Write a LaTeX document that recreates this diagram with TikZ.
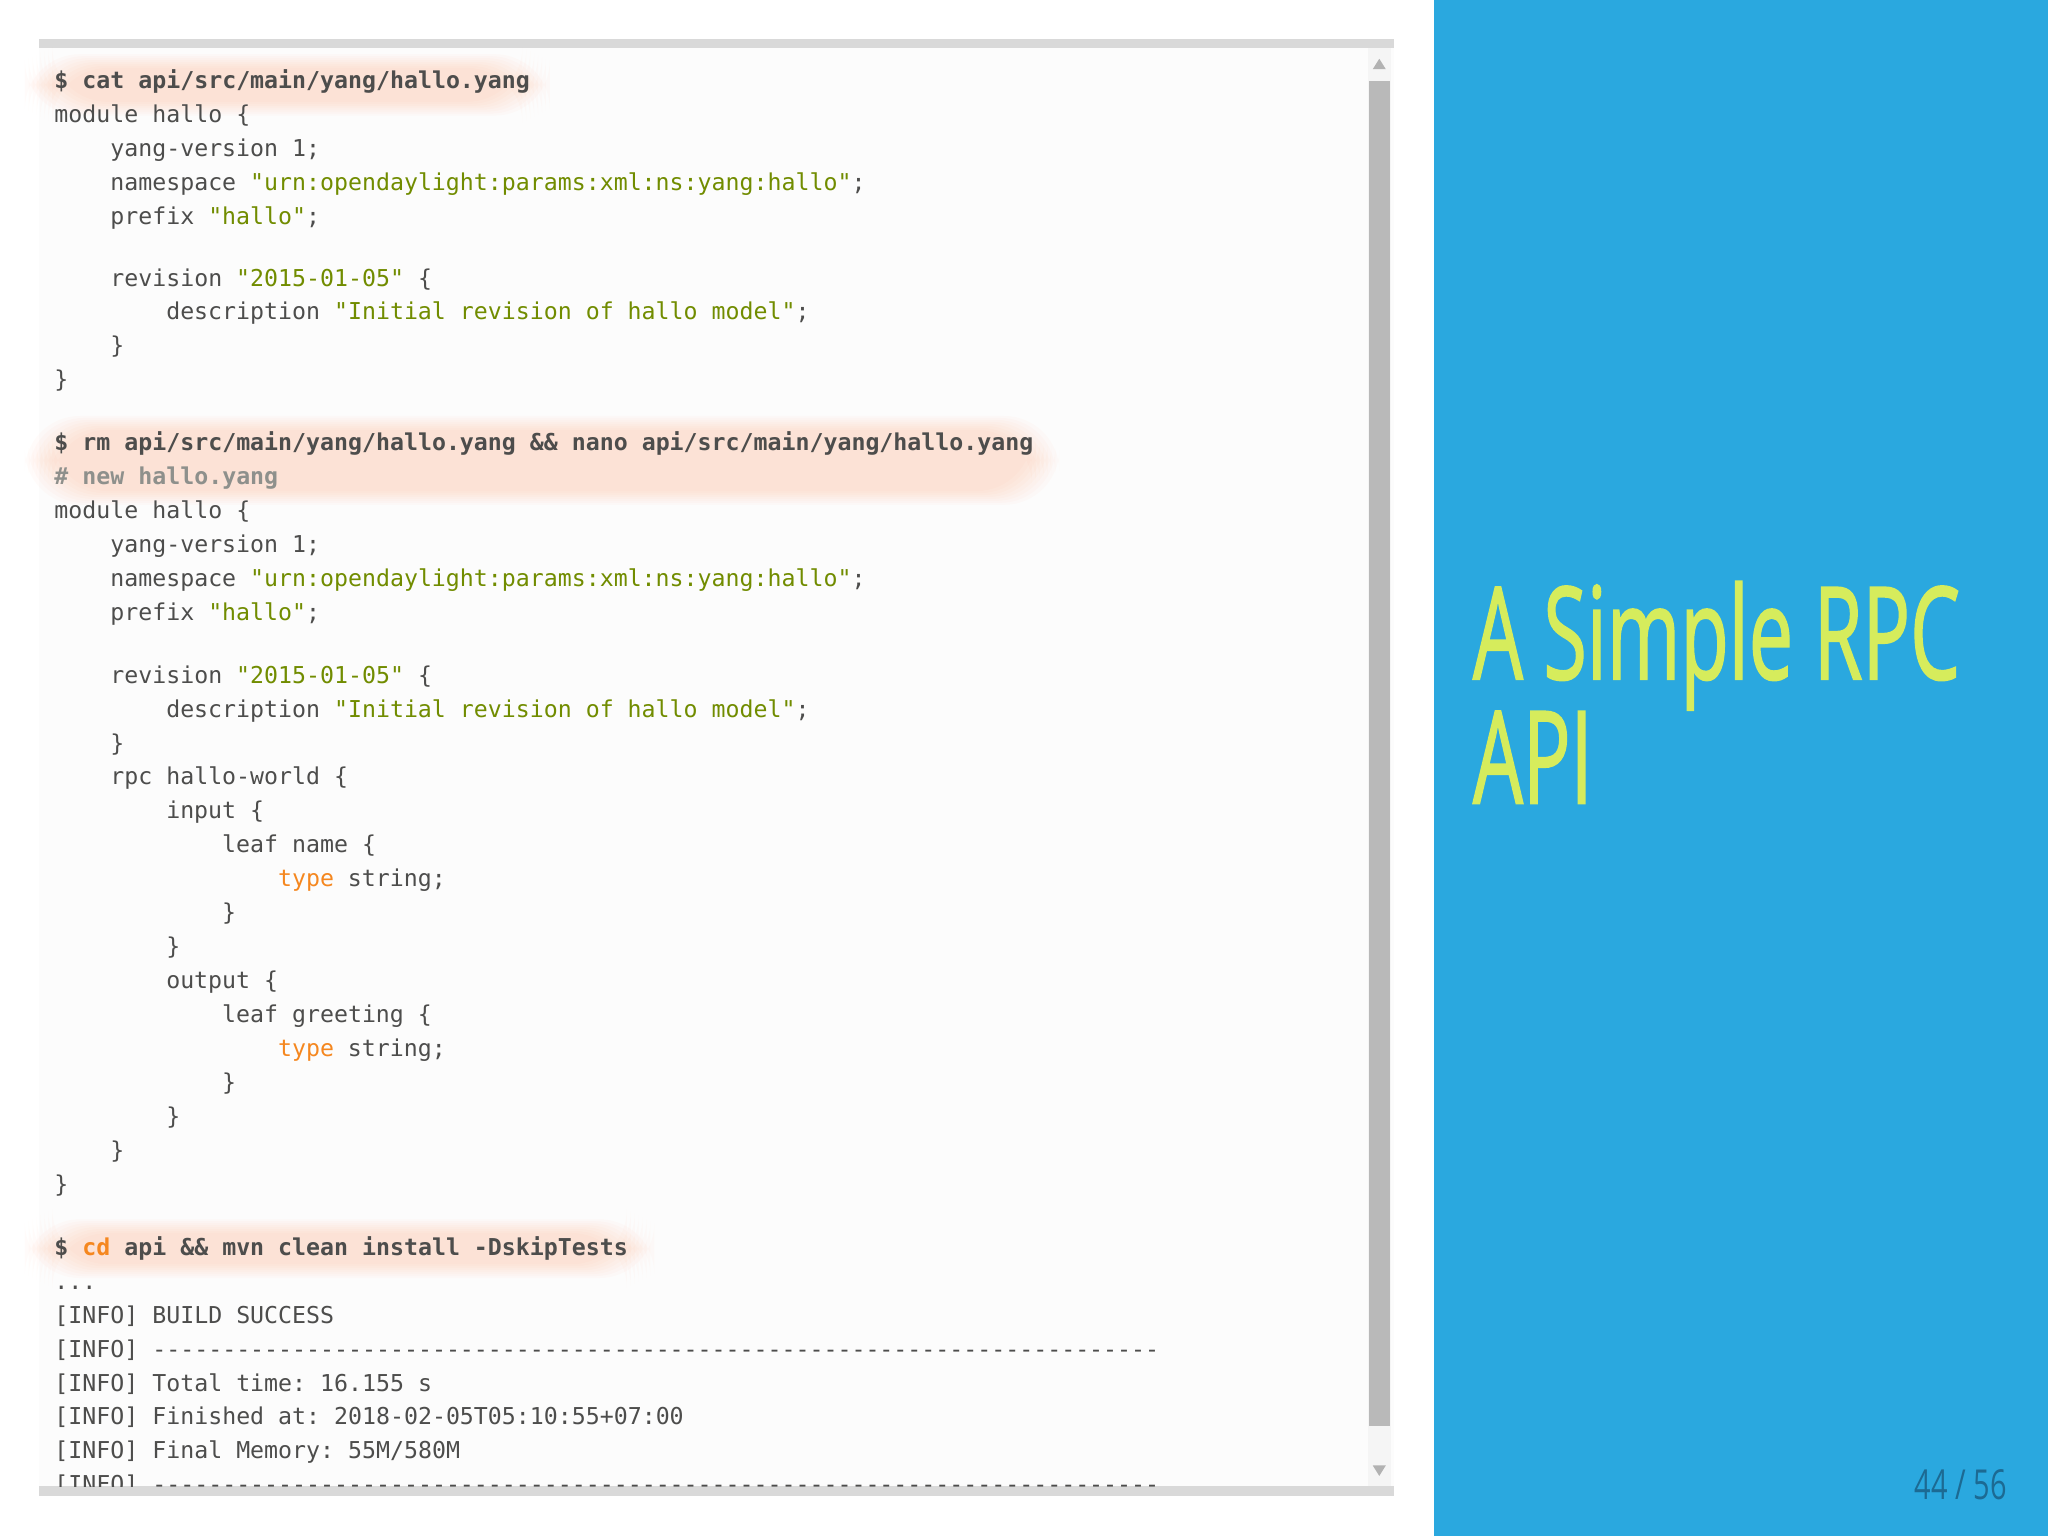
\documentclass[tikz,border=0pt]{standalone}
\usepackage{fontspec}
\usepackage{graphicx}
\setmonofont{DejaVu Sans Mono}
\newfontfamily\titlefont[FakeBold=1.6]{Open Sans}
\newfontfamily\pagefont{Open Sans}
\definecolor{strg}{HTML}{718C00}
\definecolor{kw}{HTML}{F5871F}
\definecolor{cmt}{HTML}{8E908C}
\definecolor{txt}{HTML}{4D4D4C}
\definecolor{blue}{HTML}{2AA8DF}
\definecolor{ttl}{HTML}{D6EC5C}
\definecolor{pg}{HTML}{1C6A93}
\definecolor{glow}{HTML}{FF8A50}
\newcounter{ln}
\newcommand{\CL}[3]{\stepcounter{ln}\node[code] (t\theln) at ({0.41+#2*0.107},{-(#1+6)/100}) {#3};}
\newcommand{\Str}[1]{\textcolor{strg}{#1}}
\newcommand{\Kw}[1]{\textcolor{kw}{#1}}
\newcommand{\GL}[4]{\foreach \g in {0,...,7}{\fill[glow,opacity=0.028,rounded corners=12pt] ({(#1-\g*3)/100},{-(#2-\g*1.5)/100}) rectangle ({(#3+\g*3)/100},{-(#4+\g*1.5)/100});}}
\tikzset{code/.style={anchor=base west,inner sep=0pt,text=txt,font=\ttfamily\fontsize{5.06pt}{6pt}\selectfont}}
\begin{document}
\begin{tikzpicture}
\useasboundingbox (0,0) rectangle (15.68,-11.76);
\fill[white] (0,0) rectangle (15.68,-11.76);
\fill[blue] (10.98,0) rectangle (15.68,-11.76);
% code panel
\fill[gray!2] (0.30,-0.36) rectangle (10.67,-11.40);
\fill[gray!30] (0.30,-0.30) rectangle (10.67,-0.37);
\fill[gray!30] (0.30,-11.38) rectangle (10.67,-11.45);
\fill[gray!8] (10.47,-0.37) rectangle (10.65,-11.38);
\fill[gray!55] (10.48,-0.62) rectangle (10.64,-10.92);
\fill[gray!60] (10.51,-0.53) -- (10.61,-0.53) -- (10.56,-0.45) -- cycle;
\fill[gray!60] (10.51,-11.22) -- (10.61,-11.22) -- (10.56,-11.30) -- cycle;
% glows
\GL{40}{52}{400}{78}
\GL{40}{329}{790}{376}
\GL{40}{944}{480}{968}
\begin{scope}
\clip (0.30,-0.37) rectangle (10.46,-11.38);
\CL{62}{0}{\textbf{\$ cat api/src/main/yang/hallo.yang}}
\CL{88}{0}{module hallo \{}
\CL{114}{4}{yang-version 1;}
\CL{140}{4}{namespace \Str{"urn:opendaylight:params:xml:ns:yang:hallo"};}
\CL{166}{4}{prefix \Str{"hallo"};}
\CL{213}{4}{revision \Str{"2015-01-05"} \{}
\CL{239}{8}{description \Str{"Initial revision of hallo model"};}
\CL{265}{4}{\}}
\CL{291}{0}{\}}
\CL{339}{0}{\textbf{\$ rm api/src/main/yang/hallo.yang \&\& nano api/src/main/yang/hallo.yang}}
\CL{365}{0}{\textbf{\textcolor{cmt}{\# new hallo.yang}}}
\CL{391}{0}{module hallo \{}
\CL{417}{4}{yang-version 1;}
\CL{443}{4}{namespace \Str{"urn:opendaylight:params:xml:ns:yang:hallo"};}
\CL{469}{4}{prefix \Str{"hallo"};}
\CL{517}{4}{revision \Str{"2015-01-05"} \{}
\CL{543}{8}{description \Str{"Initial revision of hallo model"};}
\CL{569}{4}{\}}
\CL{595}{4}{rpc hallo-world \{}
\CL{621}{8}{input \{}
\CL{647}{12}{leaf name \{}
\CL{673}{16}{\Kw{type} string;}
\CL{699}{12}{\}}
\CL{725}{8}{\}}
\CL{751}{8}{output \{}
\CL{777}{12}{leaf greeting \{}
\CL{803}{16}{\Kw{type} string;}
\CL{829}{12}{\}}
\CL{855}{8}{\}}
\CL{881}{4}{\}}
\CL{907}{0}{\}}
\CL{955}{0}{\textbf{\$ \Kw{cd} api \&\& mvn clean install -DskipTests}}
\CL{981}{0}{...}
\CL{1007}{0}{[INFO] BUILD SUCCESS}
\CL{1033}{0}{[INFO] ------------------------------------------------------------------------}
\CL{1059}{0}{[INFO] Total time: 16.155 s}
\CL{1085}{0}{[INFO] Finished at: 2018-02-05T05:10:55+07:00}
\CL{1111}{0}{[INFO] Final Memory: 55M/580M}
\CL{1137}{0}{[INFO] ------------------------------------------------------------------------}
\end{scope}
% title
\node[anchor=base west,inner sep=0pt,text=ttl,font=\titlefont\fontsize{28pt}{30pt}\selectfont] (title1) at (11.27,-5.20) {\scalebox{0.615}[1]{A Simple RPC}};
\node[anchor=base west,inner sep=0pt,text=ttl,font=\titlefont\fontsize{28pt}{30pt}\selectfont] (title2) at (11.27,-6.15) {\scalebox{0.615}[1]{API}};
\node[anchor=base east,inner sep=0pt,text=pg,font=\pagefont\fontsize{9pt}{10pt}\selectfont] (page) at (15.37,-11.48) {\scalebox{0.7}[1]{44 / 56}};
\end{tikzpicture}
\end{document}
